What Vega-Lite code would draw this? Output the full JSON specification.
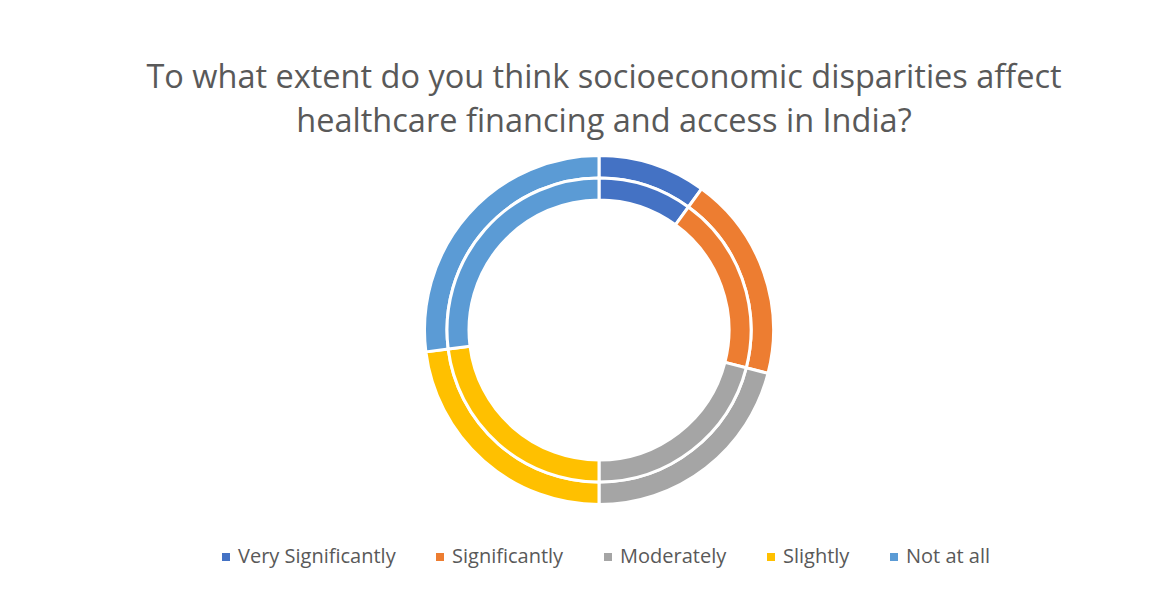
{
  "$schema": "https://vega.github.io/schema/vega-lite/v6.json",
  "autosize": "none",
  "width": 1154,
  "height": 360,
  "padding": {"left": 22, "top": 150, "right": 0, "bottom": 79},
  "background": "white",
  "title": {
    "text": ["To what extent do you think socioeconomic disparities affect", "healthcare financing and access in India?"],
    "font": "Open Sans",
    "fontSize": 32.5,
    "fontWeight": "normal",
    "color": "#595959",
    "lineHeight": 44,
    "anchor": "middle",
    "dx": 5,
    "offset": 11
  },
  "data": {
    "values": [
      {"ring": "outer", "response": "Very Significantly", "rank": 1, "share": 10},
      {"ring": "outer", "response": "Significantly", "rank": 2, "share": 19},
      {"ring": "outer", "response": "Moderately", "rank": 3, "share": 21},
      {"ring": "outer", "response": "Slightly", "rank": 4, "share": 23},
      {"ring": "outer", "response": "Not at all", "rank": 5, "share": 27},
      {"ring": "inner", "response": "Very Significantly", "rank": 1, "share": 10},
      {"ring": "inner", "response": "Significantly", "rank": 2, "share": 19},
      {"ring": "inner", "response": "Moderately", "rank": 3, "share": 21},
      {"ring": "inner", "response": "Slightly", "rank": 4, "share": 23},
      {"ring": "inner", "response": "Not at all", "rank": 5, "share": 27}
    ]
  },
  "encoding": {
    "theta": {"field": "share", "type": "quantitative", "stack": true},
    "order": {"field": "rank", "type": "quantitative"},
    "color": {
      "field": "response",
      "type": "nominal",
      "scale": {
        "domain": ["Very Significantly", "Significantly", "Moderately", "Slightly", "Not at all"],
        "range": ["#4472C4", "#ED7D31", "#A5A5A5", "#FFC000", "#5B9BD5"]
      },
      "legend": {
        "title": null,
        "orient": "none",
        "direction": "horizontal",
        "legendX": 194,
        "legendY": 397,
        "symbolType": "square",
        "symbolSize": 64,
        "symbolStrokeWidth": 0,
        "labelFont": "Open Sans",
        "labelFontSize": 20,
        "labelLimit": 400,
        "labelColor": "#595959",
        "labelOffset": 2,
        "columnPadding": 34
      }
    }
  },
  "layer": [
    {
      "transform": [{"filter": "datum.ring === 'outer'"}],
      "mark": {"type": "arc", "radius": 174.5, "radius2": 152, "stroke": "white", "strokeWidth": 3}
    },
    {
      "transform": [{"filter": "datum.ring === 'inner'"}],
      "mark": {"type": "arc", "radius": 152, "radius2": 130, "stroke": "white", "strokeWidth": 3}
    }
  ],
  "config": {"view": {"stroke": null}}
}
